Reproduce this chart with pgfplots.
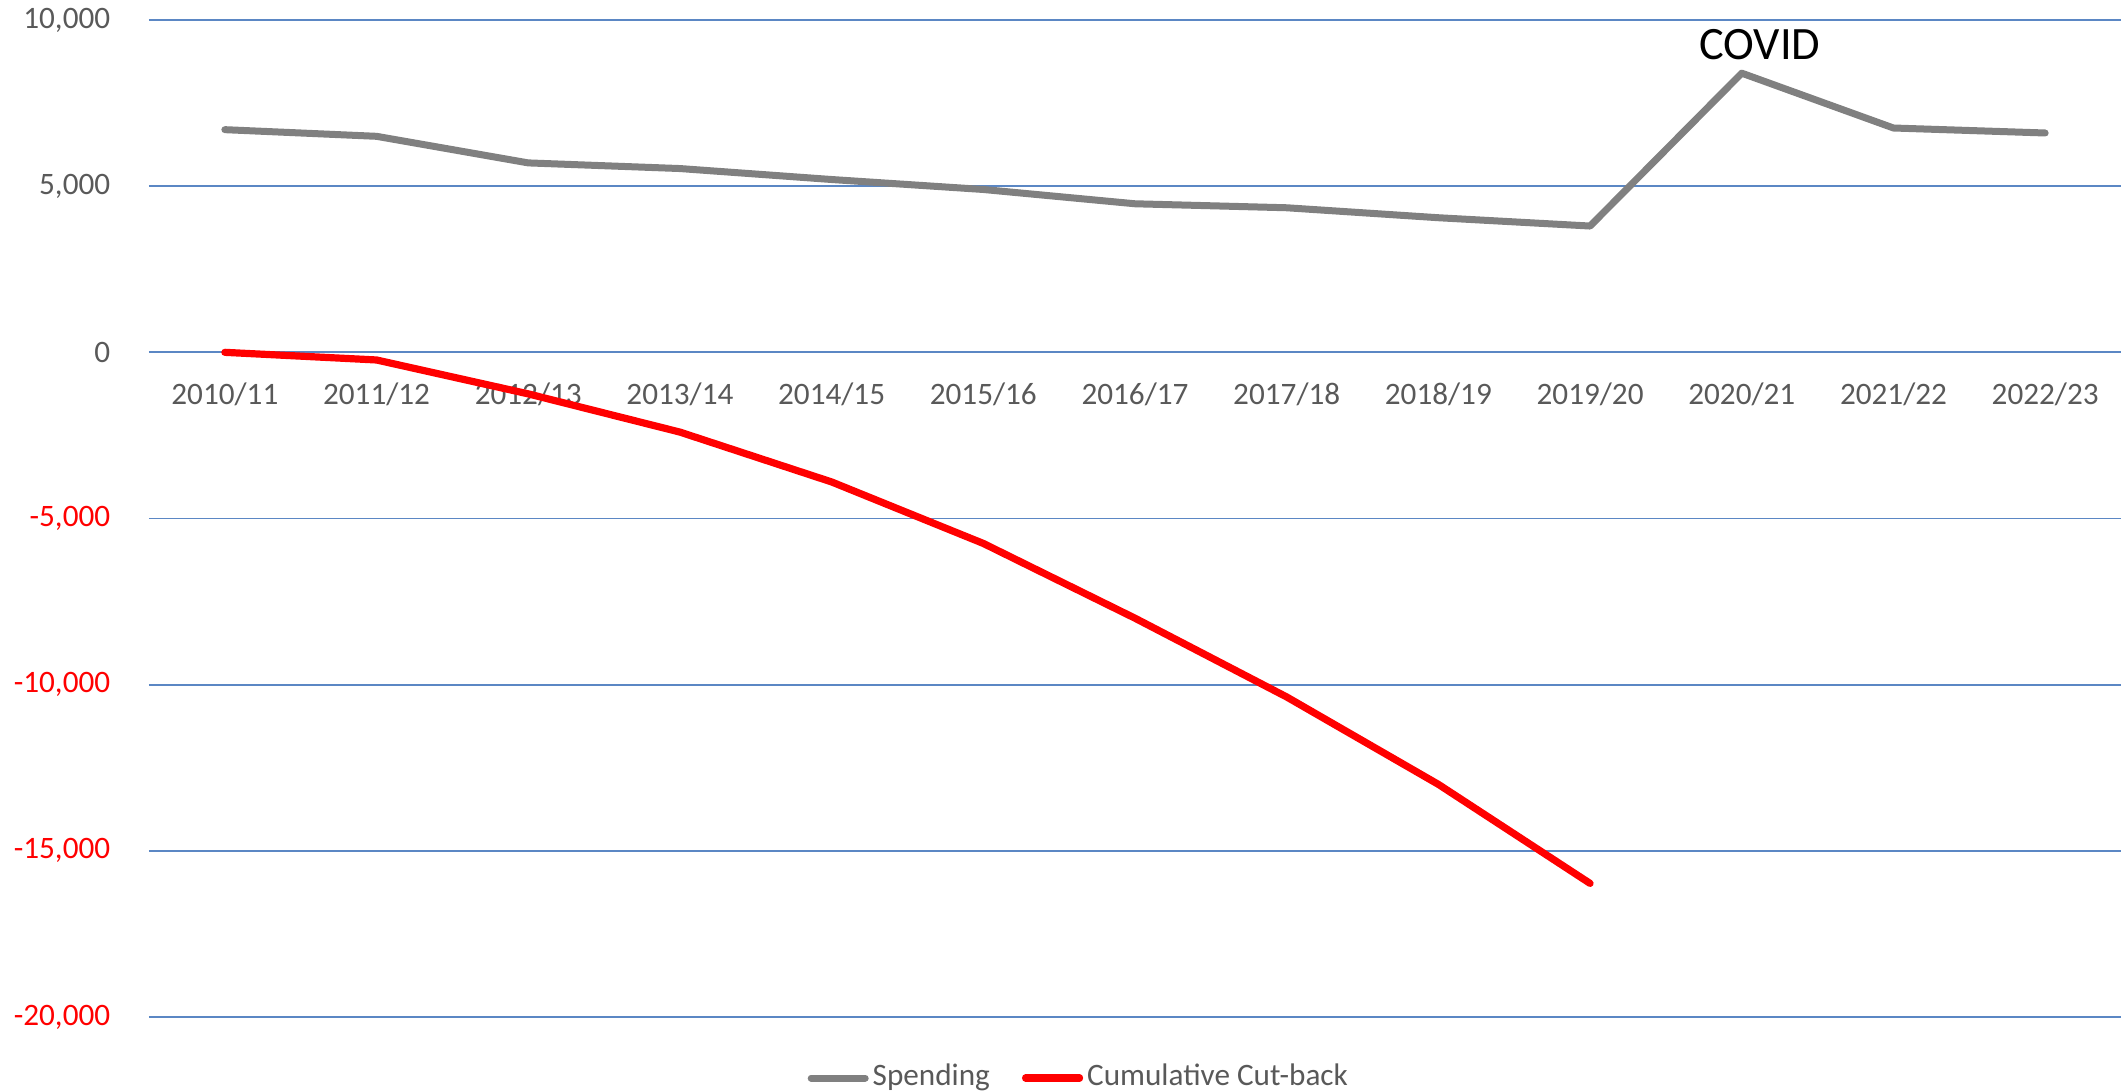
\documentclass[border=0pt]{standalone}
\usepackage{pgfplots}
\pgfplotsset{compat=1.18}
\usepackage{fontspec}
\setmainfont{Carlito}
\definecolor{gridblue}{RGB}{91,135,196}
\definecolor{lbl}{RGB}{89,89,89}
\definecolor{sgray}{RGB}{128,128,128}
\begin{document}
\begin{tikzpicture}
\begin{axis}[
 at={(0,0)}, anchor=south west,
 scale only axis, width=493pt, height=249.25pt,
 xmin=-0.5, xmax=12.5, ymin=-20000, ymax=10000,
 axis x line=middle, axis y line=left, axis line style={draw=none},
 hide obscured x ticks=false, hide obscured y ticks=false,
 xtick={0,...,12},
 xticklabels={2010/11,2011/12,2012/13,2013/14,2014/15,2015/16,2016/17,2017/18,2018/19,2019/20,2020/21,2021/22,2022/23},
 ytick={-20000,-15000,-10000,-5000,0,5000,10000},
 yticklabels={\textcolor{red}{-20,000},\textcolor{red}{-15,000},\textcolor{red}{-10,000},\textcolor{red}{-5,000},0,5{,}000,10{,}000},
 major tick length=0pt,
 ymajorgrids, grid style={gridblue, line width=0.45pt},
 tick label style={font=\fontsize{7.8}{9}\selectfont, text=lbl},
 xticklabel style={anchor=north, inner sep=0pt, yshift=-7.5pt},
 yticklabel style={anchor=east, inner sep=0pt, xshift=-9.5pt},
 legend style={at={(0.472,-0.0612)}, anchor=center, draw=none, fill=none,
   legend columns=2, font=\fontsize{7.8}{9}\selectfont, text=lbl,
   nodes={inner xsep=1pt},
   /tikz/every even column/.append style={column sep=7pt}},
 legend image code/.code={\draw[#1] (0pt,0pt) -- (13.5pt,0pt);},
 clip=false,
]
\addplot[sgray, line width=1.75pt, line cap=round, line join=round] coordinates {
 (0,6700) (1,6500) (2,5700) (3,5530) (4,5200) (5,4900) (6,4470) (7,4350) (8,4050) (9,3800) (10,8400) (11,6750) (12,6600)};
\addlegendentry{Spending}
\addplot[red, line width=1.8pt, line cap=round, line join=round] coordinates {
 (0,0) (1,-230) (2,-1250) (3,-2400) (4,-3900) (5,-5750) (6,-8000) (7,-10370) (8,-13000) (9,-15980)};
\addlegendentry{Cumulative Cut-back}
\node[font=\fontsize{11.6}{13}\selectfont, text=black] at (axis cs:10.12,9270) {COVID};
\end{axis}
\pgfresetboundingbox
\path[use as bounding box] (-37.25pt,-18.75pt) rectangle (493pt,254.25pt);
\end{tikzpicture}
\end{document}
